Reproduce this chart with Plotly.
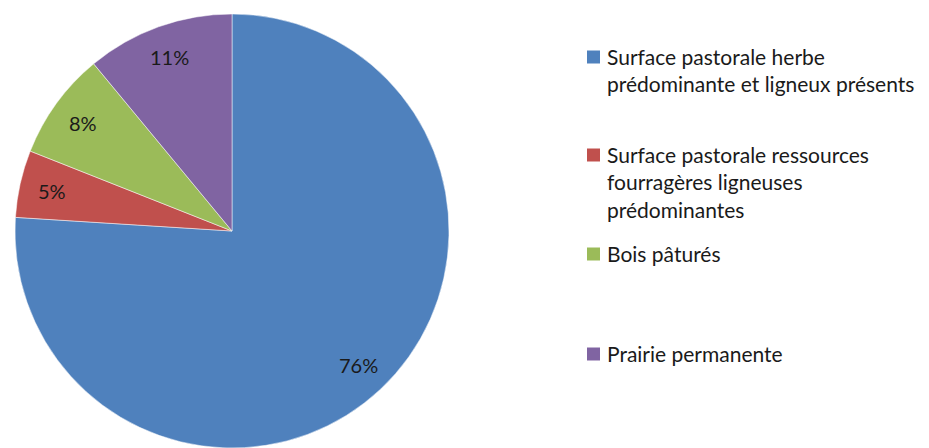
import math
import plotly.graph_objects as go

# Share of each pastoral surface type (percent)
categories = [
    "Surface pastorale herbe<br>prédominante et ligneux présents",
    "Surface pastorale ressources<br>fourragères ligneuses<br>prédominantes",
    "Bois pâturés",
    "Prairie permanente",
]
values = [76, 5, 8, 11]
colors = ["#4F81BD", "#C0504D", "#9BBB59", "#8064A2"]

W, H = 929, 448
M_T, M_B, M_L, M_R = 14, 0, 0, 0
R = 217                      # pie radius in px
CX = 232                     # pie centre x in px
CY = M_T + R                 # pie centre y in px

plot_w = W - M_L - M_R
plot_h = H - M_T - M_B


def px_x(x):
    return (x - M_L) / plot_w


def px_y(y):
    return (H - M_B - y) / plot_h


fig = go.Figure(
    go.Pie(
        labels=[c.replace("<br>", " ") for c in categories],
        values=values,
        sort=False,
        direction="clockwise",
        rotation=0,
        marker=dict(colors=colors, line=dict(color="rgba(255,255,255,0.7)", width=0.7)),
        textinfo="none",
        hoverinfo="label+percent",
        showlegend=False,
        domain=dict(x=[(CX - R) / plot_w, (CX + R) / plot_w], y=[0, 1]),
    )
)

# Percentage labels placed along each slice's mid-angle
total = sum(values)
cum = 0
annotations = []
for v in values:
    mid = (cum + v / 2) / total * 2 * math.pi
    cum += v
    rr = 0.85 * R
    xpx = CX + rr * math.sin(mid)
    ypx = CY - rr * math.cos(mid)
    annotations.append(
        dict(
            x=px_x(xpx),
            y=px_y(ypx),
            xref="paper",
            yref="paper",
            text=f"{round(v / total * 100)}%",
            showarrow=False,
            font=dict(family="Lato", size=20, color="#1a1a1a"),
            xanchor="center",
            yanchor="middle",
        )
    )

# Legend: coloured square + wrapped label per category
LEG_FONT = 21
LINE_H = LEG_FONT * 1.3
legend_rows = [57, 155, 254, 354]   # centre of each entry's first line (px)
SQ = 13
shapes = []
for name, col, yc in zip(categories, colors, legend_rows):
    shapes.append(
        dict(
            type="rect",
            xref="paper",
            yref="paper",
            x0=px_x(587),
            x1=px_x(587 + SQ),
            y0=px_y(yc - SQ / 2),
            y1=px_y(yc + SQ / 2),
            fillcolor=col,
            line=dict(width=0),
        )
    )
    annotations.append(
        dict(
            x=px_x(605),
            y=px_y(yc - LINE_H / 2 - 1),
            xref="paper",
            yref="paper",
            text=name,
            showarrow=False,
            align="left",
            xanchor="left",
            yanchor="top",
            font=dict(family="Lato", size=LEG_FONT, color="#1a1a1a"),
        )
    )

fig.update_layout(
    width=W,
    height=H,
    margin=dict(t=M_T, b=M_B, l=M_L, r=M_R),
    paper_bgcolor="white",
    plot_bgcolor="white",
    annotations=annotations,
    shapes=shapes,
    showlegend=False,
)

fig.write_html("out.html")
